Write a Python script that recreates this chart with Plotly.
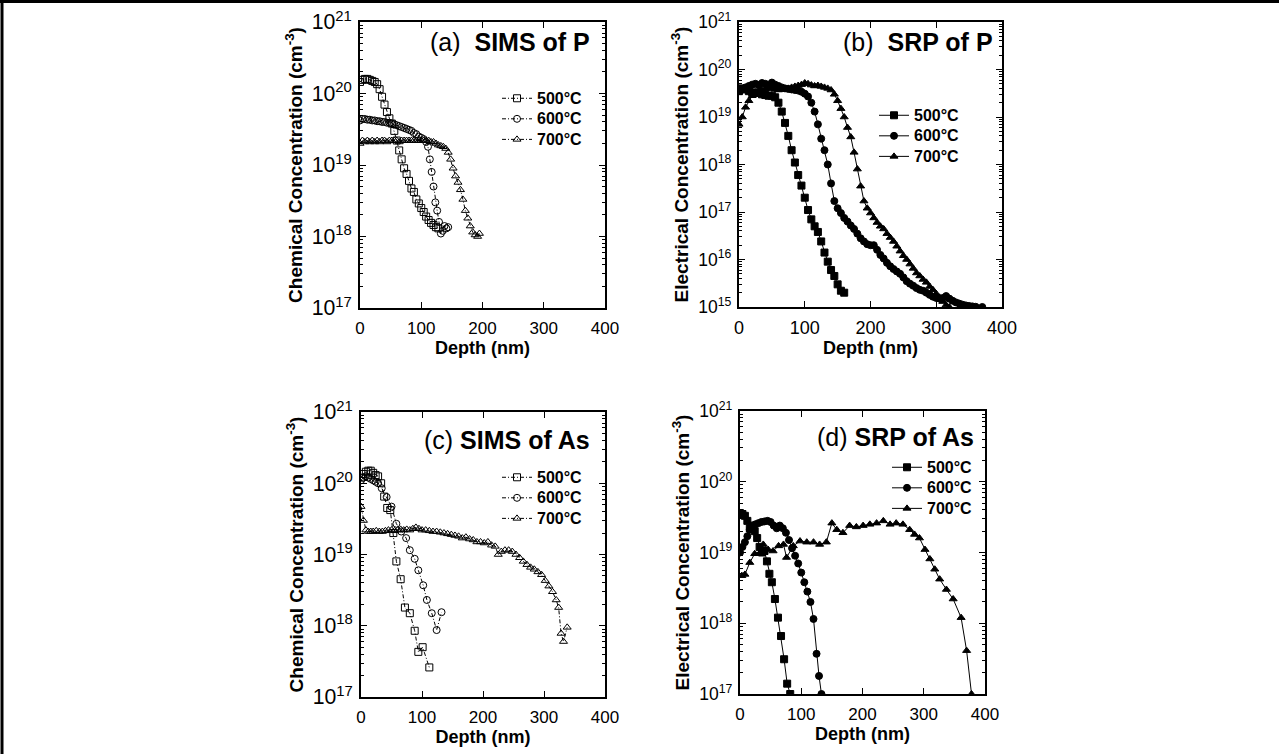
import plotly.graph_objects as go

# ---- data (depth in nm, concentration in cm^-3) ----
temps = ["500°C", "600°C", "700°C"]

# (a) SIMS of P
a500_x = [0, 4, 8, 12, 16, 20, 24, 28, 32, 36, 40, 44, 48, 52, 56, 60, 64, 68, 72, 76, 80, 84, 88, 92, 96, 100, 104, 108, 112, 116, 120, 124, 128]
a500_y = [1.45e20, 1.55e20, 1.6e20, 1.6e20, 1.55e20, 1.5e20, 1.45e20, 1.35e20, 1.15e20, 9e19, 7e19, 5.5e19, 4.5e19, 3.8e19, 3e19, 2.2e19, 1.6e19, 1.2e19, 9e18, 7.5e18, 6e18, 4.7e18, 4.2e18, 3.3e18, 2.9e18, 2.5e18, 2.2e18, 1.9e18, 1.7e18, 1.55e18, 1.45e18, 1.35e18, 1.3e18]
a600_x = [0, 4, 8, 12, 16, 20, 24, 28, 32, 36, 40, 44, 48, 52, 56, 60, 64, 68, 72, 76, 80, 84, 88, 92, 96, 100, 104, 108, 111, 114, 117, 120, 123, 126, 129, 132, 135, 138, 141, 144]
a600_y = [4.2e19, 4.4e19, 4.4e19, 4.3e19, 4.3e19, 4.2e19, 4.2e19, 4.1e19, 4.1e19, 4e19, 4e19, 3.9e19, 3.9e19, 3.8e19, 3.7e19, 3.6e19, 3.5e19, 3.4e19, 3.3e19, 3.2e19, 3.1e19, 3e19, 2.8e19, 2.7e19, 2.5e19, 2.4e19, 2.3e19, 2.1e19, 1.8e19, 1.2e19, 8e18, 5e18, 3e18, 2.3e18, 1.6e18, 1.1e18, 1.2e18, 1.4e18, 1.3e18, 1.35e18]
a700_x = [0, 4, 8, 12, 16, 20, 24, 28, 32, 36, 40, 44, 48, 52, 56, 60, 64, 68, 72, 76, 80, 84, 88, 92, 96, 100, 104, 108, 112, 116, 120, 124, 128, 132, 136, 140, 144, 148, 152, 156, 160, 164, 168, 172, 176, 180, 184, 188, 192, 195]
a700_y = [2.0e19, 2.2e19, 2.1e19, 2.2e19, 2.1e19, 2.2e19, 2.1e19, 2.2e19, 2.1e19, 2.2e19, 2.2e19, 2.1e19, 2.2e19, 2.2e19, 2.2e19, 2.2e19, 2.1e19, 2.2e19, 2.2e19, 2.2e19, 2.2e19, 2.2e19, 2.2e19, 2.2e19, 2.2e19, 2.2e19, 2.2e19, 2.2e19, 2.2e19, 2.1e19, 2.1e19, 2.0e19, 1.9e19, 1.85e19, 1.8e19, 1.7e19, 1.5e19, 1.2e19, 9e18, 7e18, 5.7e18, 4.5e18, 3.3e18, 2.3e18, 1.8e18, 1.4e18, 1.15e18, 1.05e18, 1.0e18, 1.1e18]

# (b) SRP of P
b500_x = [0, 5, 10, 15, 20, 25, 30, 35, 40, 45, 50, 55, 60, 65, 70, 75, 80, 85, 90, 95, 100, 105, 110, 115, 120, 125, 130, 135, 140, 145, 150, 155, 160]
b500_y = [3.5e19, 4e19, 3.8e19, 3.5e19, 3.3e19, 3.2e19, 3.3e19, 3e19, 2.9e19, 2.8e19, 2.8e19, 2.6e19, 2e19, 1.3e19, 7.5e18, 4e18, 2e18, 1.1e18, 6e17, 3.6e17, 2e17, 1.1e17, 7e16, 5e16, 3.8e16, 2.4e16, 1.4e16, 9e15, 6e15, 4.5e15, 3e15, 2.2e15, 2e15]
b600_x = [0, 5, 10, 15, 20, 25, 30, 35, 40, 45, 50, 55, 60, 65, 70, 75, 80, 85, 90, 95, 100, 105, 110, 115, 120, 125, 130, 135, 140, 145, 150, 155, 160, 165, 170, 175, 180, 185, 190, 195, 200, 205, 210, 215, 220, 225, 230, 235, 240, 245, 250, 255, 260, 265, 270, 275, 280, 285, 290, 295, 300, 305, 310, 315, 320, 325, 330, 335, 340, 345, 350, 355, 360, 370]
b600_y = [3.5e19, 3.8e19, 4.2e19, 4.5e19, 4.8e19, 5e19, 4.7e19, 5.2e19, 5e19, 4.6e19, 5.3e19, 4.8e19, 4.5e19, 4.2e19, 4e19, 3.9e19, 3.8e19, 3.7e19, 3.6e19, 3.4e19, 3.1e19, 2.7e19, 2e19, 1.3e19, 7e18, 3.5e18, 2e18, 1e18, 4e17, 1.7e17, 1.2e17, 9.5e16, 7.5e16, 6.3e16, 5.2e16, 4.4e16, 3.5e16, 2.8e16, 2.4e16, 2.1e16, 2e16, 2e16, 1.6e16, 1.25e16, 1.05e16, 8.5e15, 7.2e15, 6.3e15, 5.6e15, 5e15, 4.2e15, 3.5e15, 3.1e15, 2.8e15, 2.5e15, 2.3e15, 2.2e15, 2e15, 1.8e15, 1.65e15, 1.55e15, 1.5e15, 1.55e15, 1.7e15, 1.5e15, 1.35e15, 1.25e15, 1.18e15, 1.12e15, 1.08e15, 1.05e15, 1.03e15, 1.01e15, 1.0e15]
b700_x = [0, 5, 10, 15, 20, 25, 30, 35, 40, 45, 50, 55, 60, 65, 70, 75, 80, 85, 90, 95, 100, 105, 110, 115, 120, 125, 130, 135, 140, 145, 150, 155, 160, 165, 170, 175, 180, 185, 190, 195, 200, 205, 210, 215, 220, 225, 230, 235, 240, 245, 250, 255, 260, 265, 270, 275, 280, 285, 290, 295, 300, 305, 310, 315, 320]
b700_y = [7e18, 1e19, 1.6e19, 2.2e19, 2.8e19, 3.2e19, 3.5e19, 3.7e19, 3.9e19, 4e19, 4e19, 3.8e19, 3.7e19, 3.8e19, 3.9e19, 4e19, 4.2e19, 4.4e19, 4.6e19, 4.8e19, 5.2e19, 5e19, 4.7e19, 4.5e19, 4.6e19, 4.4e19, 4.2e19, 4e19, 3.7e19, 3e19, 2.2e19, 1.5e19, 1e19, 6e18, 3.8e18, 1.8e18, 8e17, 3.5e17, 1.7e17, 1.2e17, 9.5e16, 7.5e16, 6e16, 5e16, 4.4e16, 3.5e16, 2.9e16, 2.4e16, 1.9e16, 1.5e16, 1.2e16, 1e16, 8e15, 6.5e15, 5.2e15, 4.5e15, 3.8e15, 3.3e15, 2.7e15, 2.3e15, 1.9e15, 1.6e15, 1.3e15, 1.1e15, 1.0e15]

# (c) SIMS of As
c500_x = [0, 4, 8, 12, 16, 20, 24, 28, 33, 38, 43, 48, 53, 58, 65, 72, 80, 88, 94, 101, 112]
c500_y = [1.2e20, 1.35e20, 1.45e20, 1.5e20, 1.5e20, 1.4e20, 1.3e20, 1.25e20, 1.0e20, 6.5e19, 4.5e19, 4.2e19, 2e19, 8e18, 4.5e18, 1.8e18, 1.5e18, 8.5e17, 4.3e17, 5e17, 2.6e17]
c600_x = [0, 4, 8, 12, 16, 20, 24, 28, 34, 42, 50, 58, 66, 74, 80, 88, 94, 102, 108, 116, 124, 132]
c600_y = [1.1e20, 1.2e20, 1.25e20, 1.2e20, 1.15e20, 1.1e20, 1.05e20, 1.0e20, 8.5e19, 6.4e19, 4.7e19, 2.7e19, 2.1e19, 1.7e19, 1.15e19, 8.7e18, 6e18, 3.7e18, 2.3e18, 1.5e18, 8.7e17, 1.55e18]
c700_x = [0, 4, 8, 12, 16, 20, 25, 30, 35, 40, 45, 50, 55, 60, 65, 70, 75, 80, 85, 90, 95, 100, 106, 112, 118, 124, 130, 136, 142, 148, 154, 160, 166, 172, 178, 184, 190, 196, 202, 208, 214, 220, 225, 230, 236, 242, 248, 254, 260, 266, 272, 278, 284, 290, 296, 302, 308, 314, 320, 324, 328, 332, 338]
c700_y = [4.7e19, 3e19, 2.2e19, 2.1e19, 2.1e19, 2.1e19, 2.15e19, 2.1e19, 2.1e19, 2.15e19, 2.2e19, 2.2e19, 2.15e19, 2.2e19, 2.25e19, 2.2e19, 2.25e19, 2.2e19, 2.3e19, 2.4e19, 2.3e19, 2.2e19, 2.2e19, 2.15e19, 2.1e19, 2.1e19, 2.05e19, 2e19, 1.95e19, 1.9e19, 1.85e19, 1.8e19, 1.7e19, 1.75e19, 1.65e19, 1.6e19, 1.5e19, 1.5e19, 1.45e19, 1.5e19, 1.35e19, 1.3e19, 1.0e19, 1.1e19, 1.15e19, 1.15e19, 1.1e19, 1e19, 9e18, 8e18, 7.2e18, 6.6e18, 6.2e18, 5.7e18, 5.2e18, 4.3e18, 3.6e18, 3e18, 2.3e18, 1.8e18, 7.8e17, 6e17, 9.5e17]

# (d) SRP of As
d500_x = [0, 4, 8, 12, 16, 20, 24, 28, 32, 36, 40, 44, 48, 52, 57, 62, 67, 72, 77, 82]
d500_y = [3.6e19, 3.5e19, 3.3e19, 2.8e19, 2.2e19, 2.4e19, 2.0e19, 1.6e19, 1.2e19, 1.0e19, 1.05e19, 7.5e18, 5e18, 3.8e18, 2.2e18, 1.2e18, 6.6e17, 3.1e17, 1.4e17, 1.0e17]
d600_x = [0, 4, 8, 12, 16, 20, 25, 30, 35, 40, 45, 50, 55, 60, 65, 70, 75, 80, 85, 90, 95, 100, 105, 110, 115, 120, 125, 129, 133]
d600_y = [1.0e19, 1.2e19, 1.4e19, 1.7e19, 2.1e19, 2.3e19, 2.5e19, 2.6e19, 2.7e19, 2.75e19, 2.8e19, 2.7e19, 2.4e19, 2.2e19, 2.4e19, 2.2e19, 1.9e19, 1.5e19, 1.15e19, 9e18, 7e18, 5.2e18, 3.8e18, 2.8e18, 2e18, 1.15e18, 3.7e17, 1.8e17, 1.0e17]
d700_x = [3, 8, 16, 24, 33, 38, 46, 54, 63, 71, 76, 87, 98, 109, 120, 130, 141, 150, 158, 168, 179, 190, 201, 212, 223, 234, 245, 255, 266, 277, 285, 293, 302, 310, 318, 326, 337, 348, 361, 370, 378]
d700_y = [4.7e18, 4.9e18, 7.2e18, 9.6e18, 1e19, 1.3e19, 1.1e19, 1.05e19, 1.24e19, 1.3e19, 8.5e18, 1.24e19, 1.45e19, 1.4e19, 1.4e19, 1.3e19, 1.4e19, 2.6e19, 2.1e19, 1.9e19, 2.4e19, 2.3e19, 2.4e19, 2.5e19, 2.6e19, 2.8e19, 2.5e19, 2.6e19, 2.5e19, 2.1e19, 1.8e19, 1.6e19, 1.1e19, 8.1e18, 5.8e18, 4.2e18, 3e18, 2.2e18, 1.2e18, 4.1e17, 1.0e17]

panel_titles = ["(a)  <b>SIMS of P</b>", "(b)  <b>SRP of P</b>", "(c) <b>SIMS of As</b>", "(d) <b>SRP of As</b>"]
y_titles = ["Chemical Concentration (cm<sup>-3</sup>)", "Electrical Concentration (cm<sup>-3</sup>)",
            "Chemical Concentration (cm<sup>-3</sup>)", "Electrical Concentration (cm<sup>-3</sup>)"]
x_title = "Depth (nm)"
y_ranges = [[17, 21], [15, 21], [17, 21], [17, 21]]

panel_data = [
    [(a500_x, a500_y), (a600_x, a600_y), (a700_x, a700_y)],
    [(b500_x, b500_y), (b600_x, b600_y), (b700_x, b700_y)],
    [(c500_x, c500_y), (c600_x, c600_y), (c700_x, c700_y)],
    [(d500_x, d500_y), (d600_x, d600_y), (d700_x, d700_y)],
]

W, H = 1279, 754
FONT = "Liberation Sans, Arial, sans-serif"

# plot boxes in pixels (left, right, top, bottom)
boxes = [(360, 605, 22, 308), (739, 1002, 22, 307), (361, 605, 412, 697), (740, 985, 411, 694)]
# legend: left x of text, top y of the legend box
legend_pos = [(537, 83), (914, 100), (537, 462), (927, 452)]
# panel label right edge, centre y
label_pos = [(592, 42), (995, 42), (592, 440), (976, 437)]
# tick font sizes (y, x) and y-title standoff per panel - the scanned panels are not all scaled alike
ytick_size = [17, 14, 17, 14]
xtick_size = [17, 18, 17, 17]
ytitle_gap = [4, 5, 4, 5]

open_sym = ["square-open", "circle-open", "triangle-up-open"]
fill_sym = ["square", "circle", "triangle-up"]

fig = go.Figure()
layout = {}

for p in range(4):
    sims = p in (0, 2)
    ax = "" if p == 0 else str(p + 1)
    lg = "legend" if p == 0 else "legend" + str(p + 1)
    for i, (xs, ys) in enumerate(panel_data[p]):
        fig.add_trace(go.Scatter(
            x=xs, y=ys, mode="lines+markers",
            # bigger text inside a smaller legend font keeps the rows tight
            name="<span style='font-size:16px'><b>" + temps[i] + "</b></span>",
            xaxis="x" + ax, yaxis="y" + ax, legend=lg,
            line=dict(color="black", width=1, dash="4px,2px,1px,2px" if sims else "solid"),
            marker=dict(symbol=open_sym[i] if sims else fill_sym[i], size=7,
                        color="black", line=dict(color="black", width=1)),
        ))

    l, r, t, b = boxes[p]
    layout["xaxis" + ax] = dict(
        domain=[l / W, r / W], anchor="y" + ax, range=[0, 400], dtick=100,
        showline=True, linecolor="black", linewidth=1.5, mirror="ticks",
        ticks="inside", ticklen=6, tickcolor="black", showgrid=False, zeroline=False,
        tickfont=dict(family=FONT, size=xtick_size[p], color="black"), ticklabelstandoff=4,
        title=dict(text="<b>" + x_title + "</b>", font=dict(family=FONT, size=18, color="black"), standoff=4),
    )
    layout["yaxis" + ax] = dict(
        domain=[1 - b / H, 1 - t / H], anchor="x" + ax, type="log", range=y_ranges[p], dtick=1,
        exponentformat="power", showexponent="all",
        showline=True, linecolor="black", linewidth=1.5, mirror="ticks",
        ticks="inside", ticklen=6, tickcolor="black", showgrid=False, zeroline=False,
        minor=dict(ticks="inside", ticklen=3, tickcolor="black", dtick="D1", showgrid=False),
        tickfont=dict(family=FONT, size=ytick_size[p], color="black"), ticklabelstandoff=3,
        title=dict(text="<b>" + y_titles[p] + "</b>", font=dict(family=FONT, size=19, color="black"),
                   standoff=ytitle_gap[p]),
    )
    lx, ly = legend_pos[p]
    layout[lg] = dict(
        x=(lx - 40) / W, y=1 - ly / H, xanchor="left", yanchor="top",
        bgcolor="rgba(0,0,0,0)", borderwidth=0,
        font=dict(family=FONT, size=13.5, color="black"), itemwidth=30,
    )

annotations = []
for p in range(4):
    rx, cy = label_pos[p]
    annotations.append(dict(
        text=panel_titles[p], x=rx / W, y=1 - cy / H, xref="paper", yref="paper",
        xanchor="right", yanchor="middle", showarrow=False,
        font=dict(family=FONT, size=25, color="black"),
    ))

# outer frame of the page (top and left edges)
shapes = [
    dict(type="line", xref="paper", yref="paper", x0=0, x1=1, y0=1 - 1.5 / H, y1=1 - 1.5 / H,
         line=dict(color="black", width=3)),
    dict(type="line", xref="paper", yref="paper", x0=2 / W, x1=2 / W, y0=0, y1=1,
         line=dict(color="black", width=3)),
]

fig.update_layout(
    width=W, height=H, margin=dict(l=0, r=0, t=0, b=0, autoexpand=False),
    paper_bgcolor="white", plot_bgcolor="white",
    font=dict(family=FONT, color="black"),
    annotations=annotations, shapes=shapes,
    **layout,
)

# drop the page margin so the figure sits at the window corner
fig.write_html("out.html", config={"displayModeBar": False},
               post_script="document.body.style.margin='0';document.body.style.overflow='hidden';")
